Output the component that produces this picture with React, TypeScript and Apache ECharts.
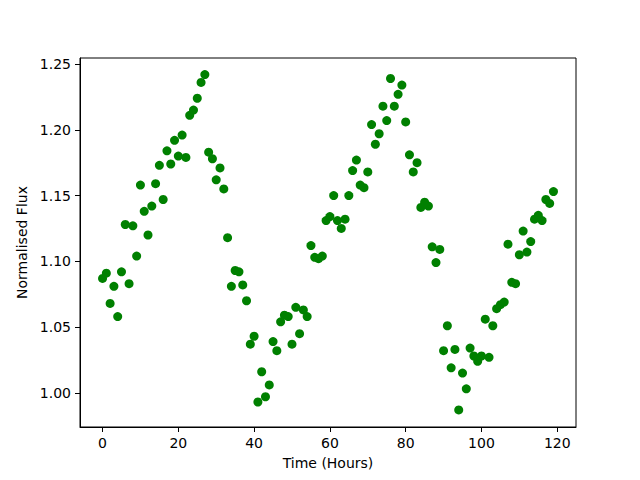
import React, { useEffect, useRef } from "react";
import * as echarts from "echarts";

const hours = [
  0, 1, 2, 3, 4, 5, 6, 7, 8, 9, 10, 11, 12, 13, 14, 15, 16, 17, 18, 19,
  20, 21, 22, 23, 24, 25, 26, 27, 28, 29, 30, 31, 32, 33, 34, 35, 36, 37, 38, 39,
  40, 41, 42, 43, 44, 45, 46, 47, 48, 49, 50, 51, 52, 53, 54, 55, 56, 57, 58, 59,
  60, 61, 62, 63, 64, 65, 66, 67, 68, 69, 70, 71, 72, 73, 74, 75, 76, 77, 78, 79,
  80, 81, 82, 83, 84, 85, 86, 87, 88, 89, 90, 91, 92, 93, 94, 95, 96, 97, 98, 99,
  100, 101, 102, 103, 104, 105, 106, 107, 108, 109, 110, 111, 112, 113, 114, 115, 116, 117, 118, 119,
];

const flux = [
  1.087, 1.091, 1.068, 1.081, 1.058, 1.092, 1.128, 1.083, 1.127, 1.104,
  1.158, 1.138, 1.120, 1.142, 1.159, 1.173, 1.147, 1.184, 1.174, 1.192,
  1.180, 1.196, 1.179, 1.211, 1.215, 1.224, 1.236, 1.242, 1.183, 1.178,
  1.162, 1.171, 1.155, 1.118, 1.081, 1.093, 1.092, 1.082, 1.070, 1.037,
  1.043, 0.993, 1.016, 0.997, 1.006, 1.039, 1.032, 1.054, 1.059, 1.058,
  1.037, 1.065, 1.045, 1.063, 1.058, 1.112, 1.103, 1.102, 1.104, 1.131,
  1.134, 1.150, 1.131, 1.125, 1.132, 1.150, 1.169, 1.177, 1.158, 1.156,
  1.168, 1.204, 1.189, 1.197, 1.218, 1.207, 1.239, 1.218, 1.227, 1.234,
  1.206, 1.181, 1.168, 1.175, 1.141, 1.145, 1.142, 1.111, 1.099, 1.109,
  1.032, 1.051, 1.019, 1.033, 0.987, 1.015, 1.003, 1.034, 1.028, 1.024,
  1.028, 1.056, 1.027, 1.051, 1.064, 1.067, 1.069, 1.113, 1.084, 1.083,
  1.105, 1.123, 1.107, 1.115, 1.132, 1.135, 1.131, 1.147, 1.144, 1.153,
];

const xTicks = [0, 20, 40, 60, 80, 100, 120];
const yTicks = [1.0, 1.05, 1.1, 1.15, 1.2, 1.25];

export default function App() {
  const ref = useRef<HTMLDivElement>(null);
  useEffect(() => {
    if (!ref.current) return;
    const chart = echarts.init(ref.current, null, { renderer: "svg" });
    const font = "DejaVu Sans";
    chart.setOption({
      animation: false,
      backgroundColor: "#ffffff",
      grid: {
        left: 80,
        top: 58,
        width: 496,
        height: 369,
        show: true,
        borderColor: "#000000",
        borderWidth: 1,
        backgroundColor: "transparent",
      },
      xAxis: {
        type: "value",
        min: -5.95,
        max: 124.95,
        name: "Time (Hours)",
        nameLocation: "middle",
        nameGap: 29,
        nameTextStyle: { fontFamily: font, fontSize: 14, color: "#000" },
        axisLine: { show: true, onZero: false, lineStyle: { color: "#000", width: 1 } },
        axisTick: { show: true, length: 5, lineStyle: { color: "#000" }, customValues: xTicks },
        axisLabel: {
          fontFamily: font,
          fontSize: 14,
          color: "#000",
          margin: 9,
          customValues: xTicks,
          formatter: (v: number) => String(v),
        },
        splitLine: { show: false },
      },
      yAxis: {
        type: "value",
        min: 0.974,
        max: 1.2546,
        name: "Normalised Flux",
        nameLocation: "middle",
        nameGap: 44,
        nameTextStyle: { fontFamily: font, fontSize: 14, color: "#000" },
        axisLine: { show: true, onZero: false, lineStyle: { color: "#000", width: 1 } },
        axisTick: { show: true, length: 5, lineStyle: { color: "#000" }, customValues: yTicks },
        axisLabel: {
          fontFamily: font,
          fontSize: 14,
          color: "#000",
          margin: 9,
          customValues: yTicks,
          formatter: (v: number) => v.toFixed(2),
        },
        splitLine: { show: false },
      },
      series: [
        {
          type: "scatter",
          data: hours.map((h, i) => [h, flux[i]]),
          symbol: "circle",
          symbolSize: 9,
          itemStyle: { color: "#008000", opacity: 1 },
        },
      ],
    });
    return () => chart.dispose();
  }, []);
  return <div ref={ref} style={{ width: 640, height: 480, margin: -8 }} />;
}
